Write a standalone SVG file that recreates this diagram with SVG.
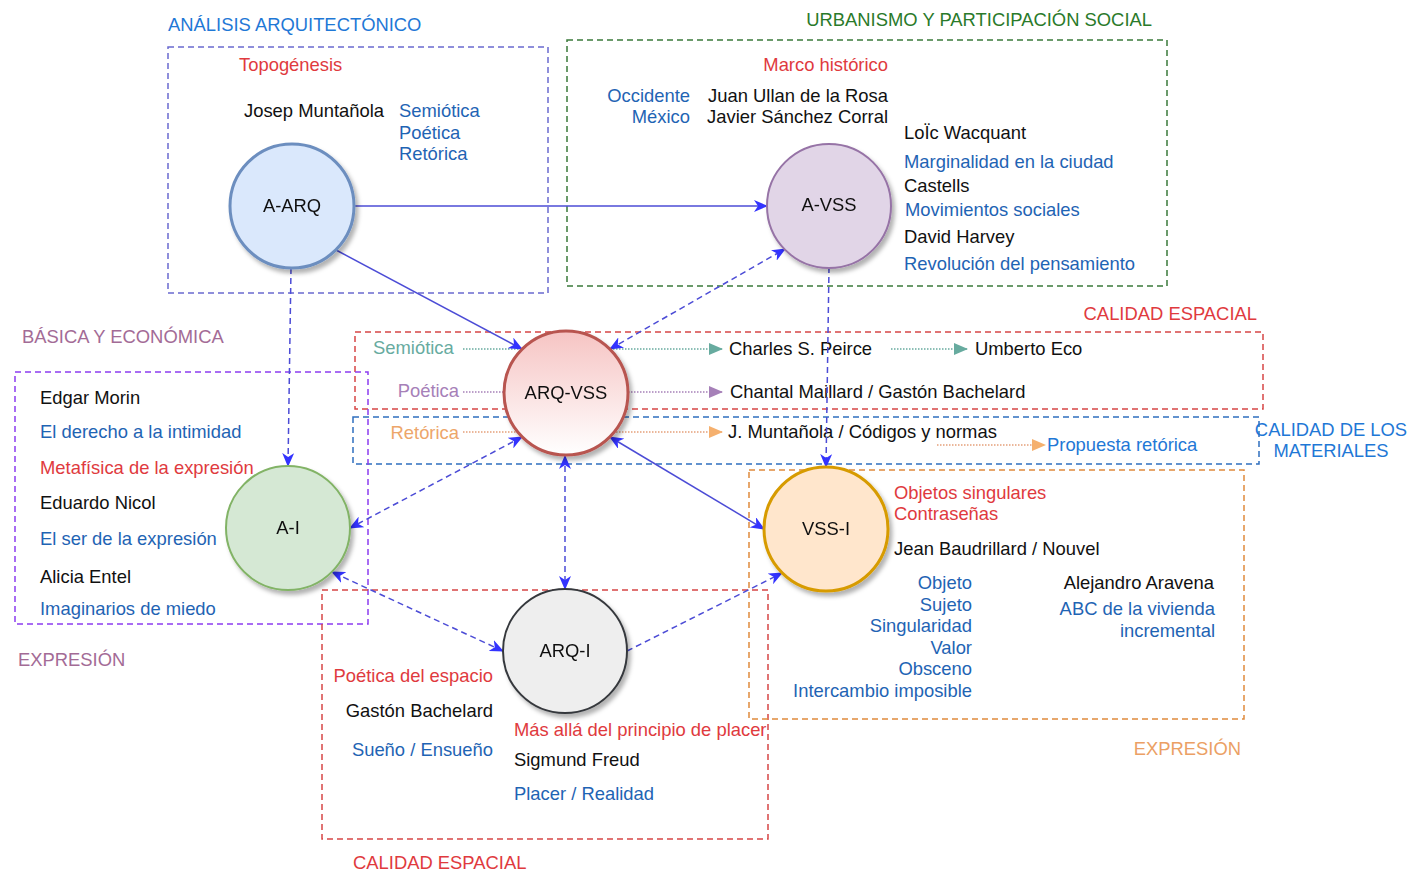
<svg xmlns="http://www.w3.org/2000/svg" width="1408" height="871" viewBox="0 0 1408 871">
<style>
text{font-family:"Liberation Sans",Arial,sans-serif;font-size:18.4px;fill:#111}
.b{fill:#1f64b4}.r{fill:#e03a3e}.hb{fill:#1f78d6}.g{fill:#2a7a2a}.m{fill:#a36b96}.o{fill:#eba064}
.e{text-anchor:end}.c{text-anchor:middle}
.box{fill:none;stroke-width:1.5;stroke-dasharray:6 4}
.lk{fill:none;stroke:#4c4cd6;stroke-width:1.5}
.dl{stroke-dasharray:6 4}
.dot{fill:none;stroke-width:1.5;stroke-dasharray:1.5 1.5}
.nd{stroke-width:3}
</style>
<defs>
<filter id="sh" x="-20%" y="-20%" width="150%" height="150%"><feDropShadow dx="3" dy="4" stdDeviation="2" flood-color="#000" flood-opacity="0.3"/></filter>
<linearGradient id="gr" x1="0" y1="0" x2="0" y2="1"><stop offset="0" stop-color="#f6c4c3"/><stop offset="1" stop-color="#ffffff"/></linearGradient>
<marker id="cl" viewBox="0 0 14 12" refX="13" refY="6" markerWidth="14" markerHeight="12" markerUnits="userSpaceOnUse" orient="auto-start-reverse"><path d="M0,0 L14,6 L0,12 L4,6 Z" fill="#3333ff"/></marker>
<marker id="tt" viewBox="0 0 14 12" refX="13" refY="6" markerWidth="14" markerHeight="12" markerUnits="userSpaceOnUse" orient="auto"><path d="M0,0 L14,6 L0,12 Z" fill="#67ab9f"/></marker>
<marker id="tp" viewBox="0 0 14 12" refX="13" refY="6" markerWidth="14" markerHeight="12" markerUnits="userSpaceOnUse" orient="auto"><path d="M0,0 L14,6 L0,12 Z" fill="#a680b8"/></marker>
<marker id="to" viewBox="0 0 14 12" refX="13" refY="6" markerWidth="14" markerHeight="12" markerUnits="userSpaceOnUse" orient="auto"><path d="M0,0 L14,6 L0,12 Z" fill="#f5b06e"/></marker>
</defs>

<g id="groups">
<rect class="box" x="168" y="47" width="380" height="246" stroke="#6a6ad0"/>
<rect class="box" x="567" y="40" width="600" height="246" stroke="#3a7a3a"/>
<rect class="box" x="355" y="332" width="908" height="77" stroke="#d64545"/>
<rect class="box" x="353" y="417" width="906" height="47" stroke="#2f6fbf"/>
<rect class="box" x="15" y="372" width="353" height="252" stroke="#8c3cf0"/>
<rect class="box" x="322" y="590" width="446" height="249" stroke="#d64545"/>
<rect class="box" x="749" y="470" width="495" height="249" stroke="#e08a3c"/>
</g>

<g id="labels">
<text class="hb" x="168" y="31">ANÁLISIS ARQUITECTÓNICO</text>
<text class="r" x="239" y="71">Topogénesis</text>
<text x="244" y="117">Josep Muntañola</text>
<text class="b" x="399" y="117">Semiótica</text>
<text class="b" x="399" y="139">Poética</text>
<text class="b" x="399" y="160">Retórica</text>

<text class="g e" x="1152" y="26">URBANISMO Y PARTICIPACIÓN SOCIAL</text>
<text class="r e" x="888" y="71">Marco histórico</text>
<text class="b e" x="690" y="102">Occidente</text>
<text class="b e" x="690" y="123">México</text>
<text class="e" x="888" y="102">Juan Ullan de la Rosa</text>
<text class="e" x="888" y="123">Javier Sánchez Corral</text>
<text x="904" y="139">LoÏc Wacquant</text>
<text class="b" x="904" y="168">Marginalidad en la ciudad</text>
<text x="904" y="192">Castells</text>
<text class="b" x="905" y="216">Movimientos sociales</text>
<text x="904" y="243">David Harvey</text>
<text class="b" x="904" y="270">Revolución del pensamiento</text>

<text class="r e" x="1257" y="320">CALIDAD ESPACIAL</text>
<text class="m" x="22" y="343">BÁSICA Y ECONÓMICA</text>
<text x="373" y="354" style="fill:#67ab9f">Semiótica</text>
<text x="729" y="355">Charles S. Peirce</text>
<text x="975" y="355">Umberto Eco</text>
<text class="e" x="459" y="397" style="fill:#a680b8">Poética</text>
<text x="730" y="398">Chantal Maillard / Gastón Bachelard</text>
<text class="e" x="459" y="439" style="fill:#eda66a">Retórica</text>
<text x="728" y="438">J. Muntañola / Códigos y normas</text>
<text class="hb" x="1047" y="451">Propuesta retórica</text>
<text class="hb c" x="1331" y="436">CALIDAD DE LOS</text>
<text class="hb c" x="1331" y="457">MATERIALES</text>

<text x="40" y="404">Edgar Morin</text>
<text class="b" x="40" y="438">El derecho a la intimidad</text>
<text class="r" x="40" y="474">Metafísica de la expresión</text>
<text x="40" y="509">Eduardo Nicol</text>
<text class="b" x="40" y="545">El ser de la expresión</text>
<text x="40" y="583">Alicia Entel</text>
<text class="b" x="40" y="615">Imaginarios de miedo</text>
<text class="m" x="18" y="666">EXPRESIÓN</text>

<text class="r" x="894" y="499">Objetos singulares</text>
<text class="r" x="894" y="520">Contraseñas</text>
<text x="894" y="555">Jean Baudrillard / Nouvel</text>
<text class="b e" x="972" y="589">Objeto</text>
<text class="b e" x="972" y="611">Sujeto</text>
<text class="b e" x="972" y="632">Singularidad</text>
<text class="b e" x="972" y="654">Valor</text>
<text class="b e" x="972" y="675">Obsceno</text>
<text class="b e" x="972" y="697">Intercambio imposible</text>
<text class="e" x="1214" y="589">Alejandro Aravena</text>
<text class="b e" x="1215" y="615">ABC de la vivienda</text>
<text class="b e" x="1215" y="637">incremental</text>
<text class="o e" x="1241" y="755">EXPRESIÓN</text>

<text class="r e" x="493" y="682">Poética del espacio</text>
<text class="e" x="493" y="717">Gastón Bachelard</text>
<text class="b e" x="493" y="756">Sueño / Ensueño</text>
<text class="r" x="514" y="736">Más allá del principio de placer</text>
<text x="514" y="766">Sigmund Freud</text>
<text class="b" x="514" y="800">Placer / Realidad</text>
<text class="r" x="353" y="869">CALIDAD ESPACIAL</text>
</g>

<g id="connectors">
<line class="dot" x1="463" y1="349" x2="722" y2="349" stroke="#67ab9f" marker-end="url(#tt)"/>
<line class="dot" x1="891" y1="349" x2="967" y2="349" stroke="#67ab9f" marker-end="url(#tt)"/>
<line class="dot" x1="463" y1="392" x2="722" y2="392" stroke="#a680b8" marker-end="url(#tp)"/>
<line class="dot" x1="463" y1="432" x2="722" y2="432" stroke="#e5a07a" marker-end="url(#to)"/>
<line class="dot" x1="937" y1="445" x2="1045" y2="445" stroke="#e5a07a" marker-end="url(#to)"/>

<line class="lk" x1="354" y1="206" x2="767" y2="206" marker-end="url(#cl)"/>
<line class="lk" x1="336" y1="250" x2="522" y2="349" marker-end="url(#cl)"/>
<line class="lk dl" x1="610" y1="349" x2="785" y2="249" marker-start="url(#cl)" marker-end="url(#cl)"/>
<line class="lk dl" x1="291" y1="268" x2="288" y2="466" marker-end="url(#cl)"/>
<line class="lk dl" x1="829" y1="267" x2="826" y2="467" marker-end="url(#cl)"/>
<line class="lk" x1="610" y1="437" x2="764" y2="529" marker-start="url(#cl)" marker-end="url(#cl)"/>
<line class="lk dl" x1="522" y1="437" x2="350" y2="528" marker-start="url(#cl)" marker-end="url(#cl)"/>
<line class="lk dl" x1="565" y1="456" x2="565" y2="589" marker-start="url(#cl)" marker-end="url(#cl)"/>
<line class="lk dl" x1="503" y1="651" x2="332" y2="572" marker-start="url(#cl)" marker-end="url(#cl)"/>
<line class="lk dl" x1="627" y1="651" x2="782" y2="573" marker-end="url(#cl)"/>
</g>

<g id="A-ARQ" filter="url(#sh)"><circle class="nd" cx="292" cy="206" r="62" fill="#dae8fc" stroke="#6c8ebf"/><text class="c" x="292" y="212">A-ARQ</text></g>
<g id="A-VSS" filter="url(#sh)"><ellipse cx="829" cy="206" rx="62" ry="62" fill="#e1d5e7" stroke="#9673a6" stroke-width="2"/><text class="c" x="829" y="211">A-VSS</text></g>
<g id="ARQ-VSS" filter="url(#sh)"><circle class="nd" cx="566" cy="393" r="62" fill="url(#gr)" stroke="#b85450"/><text class="c" x="566" y="399">ARQ-VSS</text></g>
<g id="A-I" filter="url(#sh)"><circle cx="288" cy="528" r="62" fill="#d5e8d4" stroke="#82b366" stroke-width="2"/><text class="c" x="288" y="534">A-I</text></g>
<g id="VSS-I" filter="url(#sh)"><circle class="nd" cx="826" cy="529" r="62" fill="#ffe6cc" stroke="#d79b00"/><text class="c" x="826" y="535">VSS-I</text></g>
<g id="ARQ-I" filter="url(#sh)"><circle cx="565" cy="651" r="62" fill="#eeeeee" stroke="#36393d" stroke-width="2"/><text class="c" x="565" y="657">ARQ-I</text></g>
</svg>
